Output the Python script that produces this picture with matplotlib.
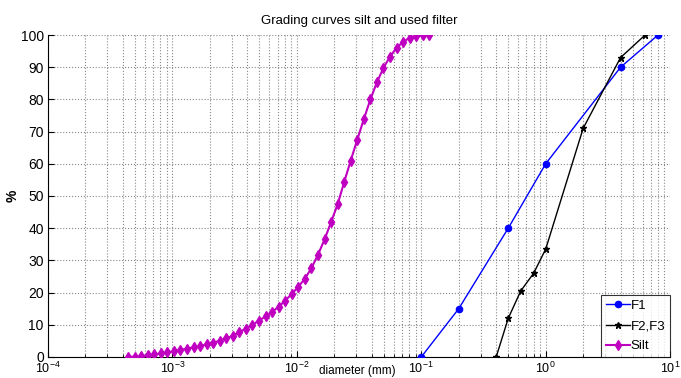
import matplotlib
matplotlib.use("Agg")
import matplotlib.pyplot as plt
from matplotlib.ticker import LogLocator, FixedLocator

plt.rcParams['font.family'] = ['Liberation Sans', 'DejaVu Sans']

# filter F1
f1_d = [0.1, 0.2, 0.5, 1.0, 4.0, 8.0]
f1_p = [0, 15, 40, 60, 90, 100]

# filters F2, F3
f23_d = [0.4, 0.5, 0.63, 0.8, 1.0, 2.0, 4.0, 6.3]
f23_p = [0, 12, 20.5, 26, 33.5, 71, 93, 100]

# silt grading (mm, % passing)
silt_d = [4.40e-4, 4.96e-4, 5.60e-4, 6.32e-4, 7.14e-4, 8.06e-4, 9.10e-4, 1.028e-3,
          1.16e-3, 1.31e-3, 1.48e-3, 1.67e-3, 1.88e-3, 2.13e-3, 2.40e-3, 2.71e-3,
          3.06e-3, 3.45e-3, 3.90e-3, 4.40e-3, 4.97e-3, 5.61e-3, 6.33e-3, 7.14e-3,
          8.06e-3, 9.10e-3, 1.028e-2, 1.16e-2, 1.31e-2, 1.48e-2, 1.67e-2, 1.88e-2,
          2.13e-2, 2.40e-2, 2.71e-2, 3.06e-2, 3.45e-2, 3.90e-2, 4.40e-2, 4.97e-2,
          5.61e-2, 6.33e-2, 7.15e-2, 8.07e-2, 9.11e-2, 1.028e-1, 1.16e-1]
silt_p = [0, 0.1, 0.3, 0.5, 0.8, 1.1, 1.4, 1.8,
          2.2, 2.6, 3.0, 3.4, 3.9, 4.4, 5.1, 5.8,
          6.6, 7.7, 8.8, 10.0, 11.3, 12.6, 14.0, 15.6,
          17.5, 19.6, 21.8, 24.3, 27.6, 31.8, 36.5, 41.8,
          47.5, 54.3, 61.0, 67.5, 73.8, 80.0, 85.3, 89.8,
          93.3, 96.0, 97.9, 99.1, 99.7, 99.9, 100]

fig = plt.figure(figsize=(6.81, 3.78), dpi=100)
ax = fig.add_axes([0.0705, 0.0556, 0.9135, 0.8518])

ax.plot(f1_d, f1_p, '-o', color='#0000ff', lw=1.0, ms=4.5, label='F1', zorder=3)
ax.plot(f23_d, f23_p, '-*', color='black', lw=1.0, ms=4.5, label='F2,F3', zorder=3)
ax.plot(silt_d, silt_p, '-d', color='#c000c0', lw=1.5, ms=5, label='Silt', zorder=3)

ax.set_xscale('log')
ax.set_xlim(1e-4, 10)
ax.set_ylim(0, 100)
ax.yaxis.set_major_locator(FixedLocator(range(0, 101, 10)))
ax.xaxis.set_major_locator(LogLocator(base=10, numticks=10))
ax.xaxis.set_minor_locator(LogLocator(base=10, subs=range(2, 10), numticks=20))

ax.grid(True, which='major', axis='both', linestyle=':', color='#888888', lw=0.8)
ax.grid(True, which='minor', axis='x', linestyle=':', color='#888888', lw=0.8)

for s in ('top', 'right'):
    ax.spines[s].set_visible(False)
ax.spines['left'].set_linewidth(0.8)
ax.spines['bottom'].set_linewidth(0.8)
ax.tick_params(which='both', direction='in', top=False, right=False)
ax.tick_params(which='major', length=4)
ax.tick_params(which='minor', length=2)
ax.tick_params(axis='x', labelsize=9, pad=3)
ax.tick_params(axis='y', labelsize=10, pad=3)

ax.set_title('Grading curves silt and used filter', fontsize=9.5, pad=8)
ax.set_ylabel('%', fontsize=10, fontweight='bold')
ax.yaxis.set_label_coords(-0.045, 0.5)
ax.set_xlabel('diameter (mm)', fontsize=8.5)
ax.xaxis.set_label_coords(0.497, -0.026)

leg = ax.legend(loc='lower right', fontsize=9.5, frameon=True, fancybox=False,
                edgecolor='black', borderaxespad=0, handlelength=1.8,
                handletextpad=0.1, labelspacing=0.6, borderpad=0.35)
leg.get_frame().set_linewidth(0.8)

fig.savefig('out.png', dpi=100)
